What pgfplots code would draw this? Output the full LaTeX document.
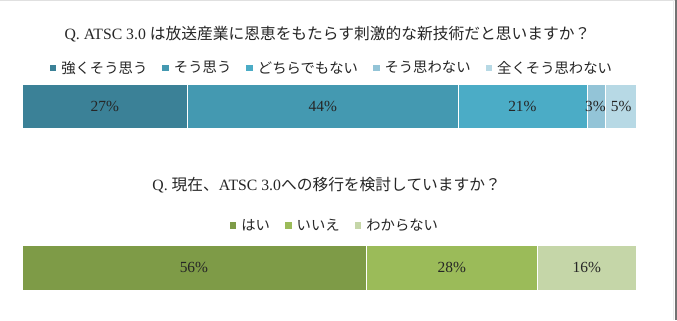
\documentclass[border=0pt]{standalone}
\usepackage{pgfplots}
\pgfplotsset{compat=1.18}
\usepackage{fontspec}
\setmainfont{Liberation Serif}
\newfontfamily\jp{Noto Sans CJK JP}
\definecolor{cA}{HTML}{3B8197}
\definecolor{cB}{HTML}{4499B1}
\definecolor{cC}{HTML}{4BACC6}
\definecolor{cD}{HTML}{93C4D7}
\definecolor{cE}{HTML}{B7D9E5}
\definecolor{gA}{HTML}{7E9B47}
\definecolor{gB}{HTML}{9BBB59}
\definecolor{gC}{HTML}{C5D6A8}
\definecolor{txt}{HTML}{262626}
\newcommand\lgfont{\jp\fontsize{14.4}{16}\selectfont}
\newcommand\lbfont{\fontsize{15.5}{17}\selectfont}
\newcommand\ttfont{\fontsize{15.8}{17}\selectfont}
\pgfplotsset{
  hbar/.style={
    xbar stacked, scale only axis, width=614bp, height=44bp,
    xmin=0, xmax=100, ymin=-0.5, ymax=0.5, bar width=44bp,
    hide axis, clip=false,
    legend columns=-1,
    legend style={draw=none, fill=none, font=\lgfont, text=txt,
      nodes={inner sep=0pt},
      /tikz/every odd column/.style={column sep=5bp},
      /tikz/every even column/.style={column sep=15bp}, inner sep=0pt},
  },
  mybar/.style={fill=#1, draw=white, line width=0.6pt},
}
\begin{document}
\begin{tikzpicture}[x=1bp,y=1bp]
\fill[white] (0,0) rectangle (677,320);
\fill[black!12] (0,319.2) rectangle (677,320);
\fill[black!55] (675,0) rectangle (677,320);
\fill[black!8] (672.5,0) rectangle (673.2,320);
% Chart 1
\node[font=\ttfont, text=txt] at (327.4,286) {Q. ATSC 3.0 {\jp は放送産業に恩恵をもたらす刺激的な新技術だと思いますか？}};
\begin{axis}[hbar, at={(22bp,192bp)}, anchor=south west,
  legend style={at={(0.503,1.364)}, anchor=center},
  legend image code/.code={\fill[#1, draw=none] (0bp,-3.3bp) rectangle (6.6bp,3.3bp);}]
\addplot[mybar=cA] coordinates {(27,0)};
\addplot[mybar=cB] coordinates {(44,0)};
\addplot[mybar=cC] coordinates {(21,0)};
\addplot[mybar=cD] coordinates {(3,0)};
\addplot[mybar=cE] coordinates {(5,0)};
\legend{強くそう思う,そう思う,どちらでもない,そう思わない,全くそう思わない}
\coordinate (a1) at (axis cs:13.5,0);
\coordinate (a2) at (axis cs:49,0);
\coordinate (a3) at (axis cs:81.5,0);
\coordinate (a4) at (axis cs:93.4,0);
\coordinate (a5) at (axis cs:97.6,0);
\end{axis}
\begin{scope}[every node/.style={font=\lbfont, text=txt}]
\node at (a1) {27\%};
\node at (a2) {44\%};
\node at (a3) {21\%};
\node at (a4) {3\%};
\node at (a5) {5\%};
\end{scope}
% Chart 2
\node[font=\ttfont, text=txt] at (326.7,134.5) {Q. {\jp 現在、}ATSC 3.0{\jp への移行を検討していますか？}};
\begin{axis}[hbar, at={(22bp,30bp)}, anchor=south west, height=45bp, bar width=45bp,
  legend style={at={(0.508,1.433)}, anchor=center},
  legend image code/.code={\fill[#1, draw=none] (0bp,-3.3bp) rectangle (6.6bp,3.3bp);}]
\addplot[mybar=gA] coordinates {(56,0)};
\addplot[mybar=gB] coordinates {(28,0)};
\addplot[mybar=gC] coordinates {(16,0)};
\legend{はい,いいえ,わからない}
\coordinate (b1) at (axis cs:28,0);
\coordinate (b2) at (axis cs:70,0);
\coordinate (b3) at (axis cs:92,0);
\end{axis}
\begin{scope}[every node/.style={font=\lbfont, text=txt}]
\node at (b1) {56\%};
\node at (b2) {28\%};
\node at (b3) {16\%};
\end{scope}
\end{tikzpicture}
\end{document}
